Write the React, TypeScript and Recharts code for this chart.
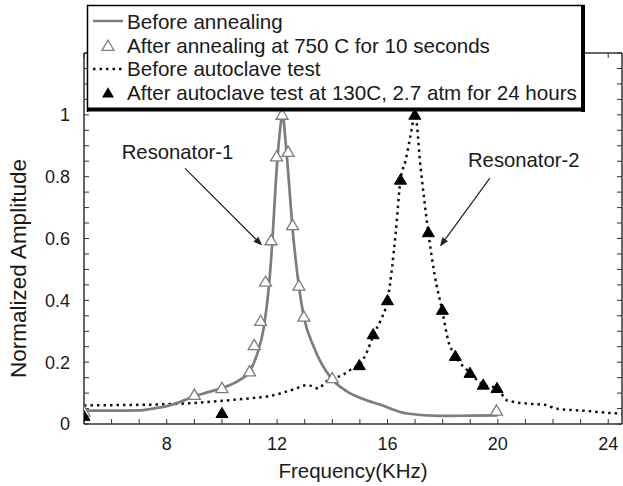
import React from "react";
import {
  ComposedChart,
  Line,
  Scatter,
  XAxis,
  YAxis,
  ReferenceLine,
  ReferenceDot,
} from "recharts";

// Resonator-1, before annealing (solid grey curve)
const beforeAnnealFreq = [5, 6, 7, 7.5, 8, 8.5, 9, 9.5, 10, 10.6, 11, 11.28, 11.52, 11.7, 11.83, 11.95, 12.07, 12.2, 12.3, 12.43, 12.55, 12.73, 12.97, 13.33, 13.94, 14.54, 15.0, 15.75, 16.7, 17.9, 19, 20];
const beforeAnnealAmp = [0.043, 0.043, 0.044, 0.05, 0.058, 0.072, 0.09, 0.103, 0.116, 0.14, 0.17, 0.227, 0.314, 0.443, 0.595, 0.78, 0.92, 1.0, 0.92, 0.78, 0.64, 0.487, 0.346, 0.249, 0.15, 0.105, 0.085, 0.062, 0.034, 0.026, 0.027, 0.028];

// Resonator-1, after annealing at 750 C (open triangles)
const afterAnnealFreq = [5, 9, 10, 11, 11.17, 11.4, 11.58, 11.78, 11.98, 12.18, 12.4, 12.56, 12.79, 12.97, 14.0, 19.95];
const afterAnnealAmp = [0.04, 0.094, 0.116, 0.17, 0.255, 0.333, 0.46, 0.594, 0.865, 1.0, 0.88, 0.643, 0.447, 0.347, 0.148, 0.043];

// Resonator-2, before autoclave test (dotted curve)
const beforeAutoclaveFreq = [5, 6, 7, 8, 9, 10, 11, 11.64, 12.6, 13.1, 13.5, 13.77, 14.0, 14.4, 14.77, 15.0, 15.27, 15.5, 15.75, 16.0, 16.3, 16.47, 16.65, 16.83, 17.0, 17.2, 17.48, 17.7, 18.0, 18.2, 18.46, 19.0, 19.47, 19.97, 20.34, 21.2, 21.7, 22.15, 23.1, 24.3, 24.5];
const beforeAutoclaveAmp = [0.06, 0.061, 0.062, 0.064, 0.068, 0.075, 0.083, 0.089, 0.112, 0.126, 0.115, 0.137, 0.146, 0.16, 0.182, 0.193, 0.236, 0.29, 0.335, 0.4, 0.62, 0.79, 0.85, 0.93, 1.0, 0.83, 0.62, 0.487, 0.36, 0.27, 0.22, 0.165, 0.127, 0.116, 0.076, 0.065, 0.062, 0.049, 0.043, 0.034, 0.033];

// Resonator-2, after autoclave test (filled triangles)
const afterAutoclaveFreq = [5, 10, 14.98, 15.48, 16.0, 16.47, 16.99, 17.48, 17.99, 18.46, 18.99, 19.47, 19.97];
const afterAutoclaveAmp = [0.026, 0.035, 0.19, 0.29, 0.4, 0.79, 1.0, 0.62, 0.369, 0.22, 0.165, 0.127, 0.116];

const xTicks = [5, 6, 7, 8, 9, 10, 11, 12, 13, 14, 15, 16, 17, 18, 19, 20, 21, 22, 23, 24];
const xLabels = [8, 12, 16, 20, 24];
const yTicks = [0, 0.05, 0.1, 0.15, 0.2, 0.25, 0.3, 0.35, 0.4, 0.45, 0.5, 0.55, 0.6, 0.65, 0.7, 0.75, 0.8, 0.85, 0.9, 0.95, 1, 1.05, 1.1, 1.15, 1.2];
const yLabels = [0, 0.2, 0.4, 0.6, 0.8, 1];

const zip = (fs: number[], as: number[]) => fs.map((f, i) => ({ freq: f, amp: as[i] }));

const beforeAnneal = zip(beforeAnnealFreq, beforeAnnealAmp);
const afterAnneal = zip(afterAnnealFreq, afterAnnealAmp);
const beforeAutoclave = zip(beforeAutoclaveFreq, beforeAutoclaveAmp);
const afterAutoclave = zip(afterAutoclaveFreq, afterAutoclaveAmp);

const FONT = "'Liberation Sans', Arial, sans-serif";
const GREY = "#7d7d7d";
const INK = "#1a1a1a";

const tri = (cx: number, cy: number) =>
  `${cx},${cy - 5.8} ${cx - 6},${cy + 4.4} ${cx + 6},${cy + 4.4}`;

const OpenTriangle = (props: any) => (
  <polygon points={tri(props.cx, props.cy)} fill="#fff" stroke={GREY} strokeWidth={1.3} />
);
const FilledTriangle = (props: any) => (
  <polygon points={tri(props.cx, props.cy)} fill="#000" stroke="#000" strokeWidth={1} />
);

const XTick = ({ x, y, payload }: any) =>
  xLabels.includes(payload.value) ? (
    <text x={x} y={y} dy="0.71em" textAnchor="middle" fontSize={18} fontFamily={FONT} fill={INK}>
      {payload.value}
    </text>
  ) : (
    <g />
  );

const YTick = ({ x, y, payload }: any) =>
  yLabels.some((v) => Math.abs(v - payload.value) < 1e-6) ? (
    <text x={x} y={y} dy="0.355em" textAnchor="end" fontSize={18} fontFamily={FONT} fill={INK}>
      {String(Math.round(payload.value * 10) / 10)}
    </text>
  ) : (
    <g />
  );

const YTitle = ({ viewBox }: any) => {
  const cx = viewBox.x + 18;
  const cy = viewBox.y + viewBox.height / 2 + 30;
  return (
    <text
      x={cx}
      y={cy}
      transform={`rotate(-90, ${cx}, ${cy})`}
      textAnchor="middle"
      dominantBaseline="central"
      fontSize={22.5}
      fontFamily={FONT}
      fill={INK}
    >
      Normalized Amplitude
    </text>
  );
};

const Arrow = (props: any) => {
  const { x1, y1, x2, y2 } = props;
  const ang = Math.atan2(y2 - y1, x2 - x1);
  const L = 9;
  const W = 3.5;
  const bx = x2 - L * Math.cos(ang);
  const by = y2 - L * Math.sin(ang);
  const px = -Math.sin(ang) * W;
  const py = Math.cos(ang) * W;
  return (
    <g>
      <line x1={x1} y1={y1} x2={bx} y2={by} stroke="#222" strokeWidth={1.2} />
      <polygon points={`${x2},${y2} ${bx + px},${by + py} ${bx - px},${by - py}`} fill="#222" />
    </g>
  );
};

const frame = { stroke: "#333", strokeWidth: 1.5 };

function LegendBox() {
  const tx = 127;
  const txt = { fontSize: 20.6, fontFamily: FONT, fill: INK };
  return (
    <svg
      width={623}
      height={486}
      style={{ position: "absolute", left: 0, top: 0, pointerEvents: "none" }}
    >
      <rect x={87} y={5} width={497} height={106} fill="#fff" />
      <line x1={87} y1={5.5} x2={585} y2={5.5} stroke="#000" strokeWidth={1.5} />
      <line x1={87.5} y1={5} x2={87.5} y2={112} stroke="#000" strokeWidth={1.5} />
      <line x1={583} y1={5} x2={583} y2={112} stroke="#000" strokeWidth={4} />
      <line x1={87} y1={109.5} x2={585} y2={109.5} stroke="#000" strokeWidth={4} />

      <line x1={93} y1={21} x2={123} y2={21} stroke={GREY} strokeWidth={2.5} />
      <text x={tx} y={29} {...txt}>Before annealing</text>

      <polygon points={tri(108, 46)} fill="#fff" stroke={GREY} strokeWidth={1.3} />
      <text x={tx} y={52.5} {...txt}>After annealing at 750 C for 10 seconds</text>

      <line x1={93} y1={69} x2={124} y2={69} stroke="#111" strokeWidth={2.5} strokeDasharray="2.5 4" />
      <text x={tx} y={76} {...txt}>Before autoclave test</text>

      <polygon points={tri(108, 93)} fill="#000" />
      <text x={tx} y={99.5} {...txt}>After autoclave test at 130C, 2.7 atm for 24 hours</text>
    </svg>
  );
}

export default function App() {
  return (
    <div style={{ position: "absolute", left: 0, top: 0, width: 623, height: 486, background: "#fff" }}>
      <ComposedChart width={623} height={486} margin={{ top: 52, right: 0, bottom: 0, left: 0 }}>
        <XAxis
          dataKey="freq"
          type="number"
          domain={[5, 24.5]}
          ticks={xTicks}
          interval={0}
          allowDataOverflow
          height={62}
          tickSize={-5}
          tickMargin={18}
          tick={<XTick />}
          axisLine={frame}
          tickLine={{ stroke: "#333", strokeWidth: 1 }}
          label={{ value: "Frequency(KHz)", position: "insideBottom", offset: 8, fontSize: 20.5, fontFamily: FONT, fill: INK }}
        />
        <XAxis
          xAxisId="top"
          orientation="top"
          dataKey="freq"
          type="number"
          domain={[5, 24.5]}
          ticks={xTicks}
          interval={0}
          allowDataOverflow
          height={1}
          tickSize={-5}
          tick={() => <g />}
          axisLine={frame}
          tickLine={{ stroke: "#333", strokeWidth: 1 }}
        />
        <YAxis
          type="number"
          domain={[0, 1.2]}
          ticks={yTicks}
          interval={0}
          allowDataOverflow
          width={84}
          tickSize={-5}
          tickMargin={19}
          tick={<YTick />}
          axisLine={frame}
          tickLine={{ stroke: "#333", strokeWidth: 1 }}
          label={<YTitle />}
        />
        <YAxis
          yAxisId="right"
          orientation="right"
          type="number"
          domain={[0, 1.2]}
          ticks={yTicks}
          interval={0}
          allowDataOverflow
          width={1}
          tickSize={-5}
          tick={() => <g />}
          axisLine={frame}
          tickLine={{ stroke: "#333", strokeWidth: 1 }}
        />

        <Line
          data={beforeAutoclave}
          dataKey="amp"
          type="monotone"
          stroke="#111"
          strokeWidth={2.5}
          strokeDasharray="2.5 4"
          dot={false}
          activeDot={false}
          isAnimationActive={false}
        />
        <Line
          data={beforeAnneal}
          dataKey="amp"
          type="monotone"
          stroke={GREY}
          strokeWidth={2.7}
          dot={false}
          activeDot={false}
          isAnimationActive={false}
        />
        <Scatter data={afterAnneal} dataKey="amp" shape={<OpenTriangle />} isAnimationActive={false} />
        <Scatter data={afterAutoclave} dataKey="amp" shape={<FilledTriangle />} isAnimationActive={false} />

        <ReferenceLine segment={[{ x: 8.66, y: 0.827 }, { x: 11.46, y: 0.577 }]} shape={<Arrow />} />
        <ReferenceLine segment={[{ x: 19.71, y: 0.795 }, { x: 17.9, y: 0.574 }]} shape={<Arrow />} />
        <ReferenceDot
          x={8.39}
          y={0.88}
          r={0}
          fill="none"
          stroke="none"
          label={{ value: "Resonator-1", position: "center", fontSize: 20.3, fontFamily: FONT, fill: INK }}
        />
        <ReferenceDot
          x={20.94}
          y={0.854}
          r={0}
          fill="none"
          stroke="none"
          label={{ value: "Resonator-2", position: "center", fontSize: 20.3, fontFamily: FONT, fill: INK }}
        />
      </ComposedChart>
      <LegendBox />
    </div>
  );
}
